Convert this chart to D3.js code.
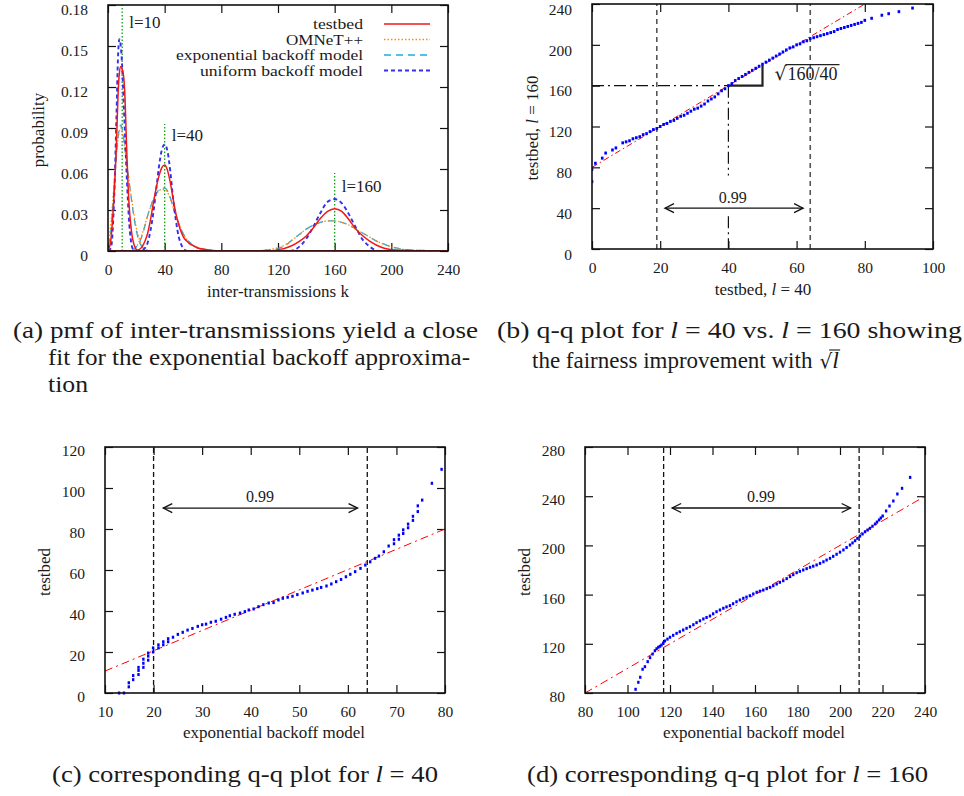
<!DOCTYPE html>
<html><head><meta charset="utf-8">
<script src="https://cdn.jsdelivr.net/npm/d3@7"></script>
<style>
body{margin:0;background:#fff;}
svg text{font-family:"Liberation Serif","DejaVu Serif",serif;fill:#1a1a1a;}
</style></head><body>
<svg id="fig" width="964" height="796"></svg>
<script>
// ---------- Panel (a): pmf of inter-transmissions [k, probability] ----------
const seriesNames = ["testbed","OMNeT++","exponential backoff model","uniform backoff model"];
const testbed10 = [[0,0],[2,0.008],[3,0.02],[4,0.035],[5,0.055],[6,0.08],[7,0.112],[8,0.13],[9,0.135],[10,0.133],[11,0.128],[12,0.112],[13,0.08],[14,0.052],[15,0.032],[16,0.02],[17,0.011],[18,0.006],[19,0.003],[20,0.001],[22,0],[240,0]];
const testbed40 = [[0,0],[18,0],[22,0.001],[24,0.003],[26,0.007],[28,0.013],[30,0.023],[32,0.035],[34,0.046],[36,0.055],[38,0.061],[40,0.063],[42,0.059],[44,0.05],[46,0.038],[48,0.027],[50,0.019],[52,0.013],[54,0.009],[56,0.007],[58,0.005],[60,0.004],[64,0.002],[70,0.001],[76,0],[240,0]];
const testbed160 = [[0,0],[116,0],[120,0.001],[125,0.002],[130,0.004],[135,0.007],[140,0.011],[145,0.017],[150,0.024],[155,0.029],[160,0.031],[165,0.029],[170,0.023],[175,0.016],[180,0.011],[185,0.007],[190,0.004],[195,0.002],[200,0.001],[210,0.0005],[220,0],[240,0]];
const omnet10 = [[0,0.006],[1,0.011],[2,0.02],[3,0.032],[4,0.045],[5,0.058],[6,0.071],[7,0.081],[8,0.088],[9,0.09],[10,0.087],[12,0.074],[14,0.058],[16,0.043],[18,0.029],[20,0.017],[22,0.009],[24,0.004],[26,0.002],[30,0],[240,0]];
const omnet40 = [[0,0],[16,0],[18,0.001],[20,0.003],[22,0.007],[24,0.012],[26,0.019],[28,0.026],[30,0.032],[32,0.037],[34,0.041],[36,0.044],[38,0.045],[40,0.045],[42,0.043],[44,0.038],[46,0.032],[48,0.026],[50,0.02],[52,0.015],[54,0.011],[56,0.008],[58,0.006],[60,0.004],[64,0.002],[70,0.001],[80,0],[240,0]];
const omnet160 = [[0,0],[100,0],[110,0.0006],[115,0.0012],[120,0.0025],[125,0.0045],[130,0.008],[135,0.012],[140,0.016],[145,0.019],[150,0.021],[155,0.022],[160,0.022],[165,0.021],[170,0.019],[175,0.016],[180,0.013],[185,0.01],[190,0.007],[195,0.005],[200,0.003],[205,0.002],[210,0.001],[220,0.0005],[240,0]];
const exp10 = [[0,0.004],[1,0.008],[2,0.015],[3,0.028],[4,0.042],[5,0.056],[6,0.07],[7,0.082],[8,0.09],[9,0.092],[10,0.089],[12,0.075],[14,0.058],[16,0.042],[18,0.027],[20,0.015],[22,0.007],[24,0.003],[26,0.0015],[30,0],[240,0]];
const exp40 = [[0,0],[16,0],[18,0.001],[20,0.003],[22,0.006],[24,0.011],[26,0.018],[28,0.026],[30,0.032],[32,0.038],[34,0.042],[36,0.045],[38,0.046],[40,0.046],[42,0.044],[44,0.039],[46,0.032],[48,0.026],[50,0.02],[52,0.015],[54,0.011],[56,0.008],[58,0.006],[60,0.004],[64,0.002],[70,0.001],[80,0],[240,0]];
const exp160 = [[0,0],[100,0],[110,0.0005],[115,0.001],[120,0.002],[125,0.004],[130,0.008],[135,0.012],[140,0.016],[145,0.019],[150,0.021],[155,0.022],[160,0.022],[165,0.021],[170,0.019],[175,0.016],[180,0.013],[185,0.01],[190,0.007],[195,0.005],[200,0.003],[205,0.002],[210,0.001],[220,0.0005],[240,0]];
const uniform10 = [[0,0],[2,0.002],[3,0.01],[4,0.03],[5,0.06],[6,0.1],[7,0.14],[8,0.155],[9,0.15],[10,0.135],[11,0.11],[12,0.085],[13,0.06],[14,0.038],[15,0.02],[16,0.009],[17,0.003],[18,0.001],[20,0],[240,0]];
const uniform40 = [[0,0],[22,0],[26,0.002],[28,0.006],[30,0.015],[32,0.028],[34,0.045],[36,0.062],[38,0.074],[40,0.078],[42,0.073],[44,0.058],[46,0.038],[48,0.022],[50,0.01],[52,0.004],[54,0.001],[56,0],[240,0]];
const uniform160 = [[0,0],[128,0],[132,0.001],[136,0.004],[140,0.009],[145,0.018],[150,0.028],[155,0.036],[160,0.038],[165,0.035],[170,0.027],[175,0.017],[180,0.008],[185,0.003],[188,0.001],[192,0],[240,0]];
const lValues = [10, 40, 160];
const lMarkerTops = [0.18, 0.093, 0.057];
const aXTicks = [0,40,80,120,160,200,240];
const aYTicks = [0,0.03,0.06,0.09,0.12,0.15,0.18];

// ---------- Panel (b): q-q testbed l=40 vs l=160 ----------
const bX = [0,0,0,1,3,4,6,7,9,10,11,12,13,14,15,16,17,18,19,20,21,22,23,24,25,26,27,28,29,30,31,32,33,34,35,36,37,38,39,40,41,42,43,44,45,46,47,48,49,50,51,52,53,54,55,56,57,58,59,60,61,62,63,64,65,66,67,68,69,70,71,72,73,74,75,76,77,78,79,80,82,85,87,90,94];
const bY = [0,66,78,84,89,94,97,99,104,105,106,108,109,110,112,113,115,117,118,120,122,123,125,126,128,130,131,133,135,137,138,140,142,145,147,149,152,155,157,160,162,165,167,169,171,173,175,177,179,181,183,185,187,189,191,193,195,197,198,200,201,203,204,206,207,208,209,210,211,212,213,215,216,217,218,219,220,221,222,224,226,229,230.5,232.5,236];
const bFit = [[0,80],[80,240]];
const bXTicks = [0,20,40,60,80,100];
const bYTicks = [0,40,80,120,160,200,240];
const bQuantiles = [19, 64];

// ---------- Panel (c): q-q l=40, exponential model vs testbed ----------
const cX = [12.9,13.9,14.9,14.9,15.8,15.8,16.9,16.9,16.9,17.9,17.9,17.9,18.9,18.9,18.9,19.9,19.9,21,21,22,22,23,23,24,25,26,27,28,29.1,30,30.8,31.8,32.8,33.9,34.9,35.7,36.7,37.8,38.8,39.6,40.6,41.6,42.6,43.7,44.7,45.7,46.6,47.6,48.6,49.6,50.7,51.7,52.7,53.7,54.5,55.6,56.6,57.6,58.6,59.6,60.5,61.5,62.6,63.6,64.6,65.6,66.4,67.4,68.4,69.5,69.5,70.5,70.5,71.4,71.4,72.4,72.4,73.4,73.4,74.4,74.4,75.3,77.3,79.3];
const cY = [0,0,3,5,6.5,8.5,9,11,12.5,12.5,14.5,16.5,16,18,19.5,20,22,22,23.5,23.5,25,25,26.5,27.2,28.6,29.6,30.7,31.5,32.5,33.3,33.6,34.5,35,36,36.9,37.7,38.4,39,39.7,40.5,41,42.1,43.1,43.9,44.1,45.4,46.2,46.7,47.2,48,48.8,49.6,50.2,50.9,51.5,52.2,53.2,54.3,55.4,56.7,57.9,59.2,60.8,62.4,64,65.7,66.8,68.9,71.7,72.8,74.8,75,77,77.8,79.6,80.6,82.4,84.2,86.2,88.5,91.3,94.1,102.3,109.1];
const cFit = [[10,10.7],[80,80]];
const cXTicks = [10,20,30,40,50,60,70,80];
const cYTicks = [0,20,40,60,80,100,120];
const cQuantiles = [20, 64];

// ---------- Panel (d): q-q l=160, exponential model vs testbed ----------
const dX = [103.8,105.1,106,107.1,108.2,109.5,110.6,111.8,112.9,113.7,114.5,115.3,116,116.8,117.6,118.8,120,121.5,123.1,124.6,126.2,127.8,129.4,131,132.5,134.1,135.7,137.2,138.8,140.3,141.9,143.5,145.1,146.6,148.2,149.7,151.3,152.9,154.5,156,157.6,159.2,160.8,162.3,163.9,165.5,167.1,168.6,170.2,171.7,173.3,174.9,176.5,178,179.6,181.1,182.7,184.3,185.9,187.4,189,190.6,192.2,193.7,195.3,196.8,198.4,200,201.6,203.1,204.7,205.9,207.1,208.2,209.4,210.6,211.8,213,214.1,215.3,216.5,217.4,218.4,219.2,220.1,221.7,223.3,225.1,227,229.2,233];
const dY = [83,88.7,92.8,99.3,101.4,105.5,108.7,111.7,114.4,116,117.2,118,119,120.6,122.3,123.8,125.3,126.9,128.5,129.8,131.2,132.6,133.9,135.5,137.2,138.7,140.2,141.4,142.6,144.4,146.1,147.5,148.9,150,151,152.6,154.2,155.6,157,158,159.1,160.5,161.9,162.8,163.7,164.8,165.9,167.2,168.6,170,171.3,173,174.6,176.2,177.8,178.9,180,181.1,182.2,183.1,184.1,185.4,186.7,188.1,189.5,191.1,192.8,194.5,196.3,198.3,200.3,202,203.8,205.7,207.6,209.3,211.1,212.5,213.9,215.6,217.4,219,220.7,222.3,223.9,228,232,236.1,241.8,246.4,255.3];
const dFit = [[80,80],[240,240]];
const dXTicks = [80,100,120,140,160,180,200,220,240];
const dYTicks = [80,120,160,200,240,280];
const dQuantiles = [117, 209];

// ---------- drawing ----------
const FONT = '"Liberation Serif","DejaVu Serif",serif';
const MATHFONT = '"DejaVu Serif",serif';
const svg = d3.select("#fig");
const defs = svg.append("defs");

function panel(o){
  const x = d3.scaleLinear().domain(o.xd).range([o.l,o.r]);
  const y = d3.scaleLinear().domain(o.yd).range([o.b,o.t]);
  const g = svg.append("g");
  defs.append("clipPath").attr("id","clip-"+o.name).append("rect")
    .attr("x",o.l).attr("y",o.t).attr("width",o.r-o.l).attr("height",o.b-o.t);
  const styleAxis = sel => {
    sel.attr("font-family",null);
    sel.select(".domain").remove();
    sel.selectAll(".tick line").attr("stroke","#111").attr("stroke-width",1.2);
    sel.selectAll(".tick text").style("font-size","15.5px").style("font-family",FONT).attr("fill","#1a1a1a");
  };
  g.append("g").attr("transform",`translate(0,${o.b})`)
    .call(d3.axisBottom(x).tickValues(o.xt).tickSize(-8).tickPadding(13).tickFormat(o.xf||d3.format("d"))).call(styleAxis);
  g.append("g").attr("transform",`translate(0,${o.t})`)
    .call(d3.axisTop(x).tickValues(o.xt).tickSize(-8).tickFormat("")).call(styleAxis);
  const ly = g.append("g").attr("transform",`translate(${o.l},0)`)
    .call(d3.axisLeft(y).tickValues(o.yt).tickSize(-8).tickPadding(20).tickFormat(o.yf||d3.format("d"))).call(styleAxis);
  ly.selectAll(".tick text").attr("dy",o.ydy||"0.55em");
  g.append("g").attr("transform",`translate(${o.r},0)`)
    .call(d3.axisRight(y).tickValues(o.yt).tickSize(-8).tickFormat("")).call(styleAxis);
  const plot = g.append("g").attr("clip-path",`url(#clip-${o.name})`);
  const frame = () => g.append("rect").attr("x",o.l).attr("y",o.t).attr("width",o.r-o.l).attr("height",o.b-o.t)
    .attr("fill","none").attr("stroke","#111").attr("stroke-width",1.6);
  return {x,y,g,plot,frame};
}

function titleText(g, x, y, parts, size, rotate){
  const t = g.append("text").attr("text-anchor","middle").style("font-size",size+"px").style("font-family",FONT)
    .attr("transform",`translate(${x},${y})`+(rotate?" rotate(-90)":""));
  parts.forEach(p => t.append("tspan").text(p[0]).style("font-style",p[1]?"italic":"normal"));
  return t;
}

function arrow(g, x1, x2, y){
  g.append("line").attr("x1",x1).attr("x2",x2).attr("y1",y).attr("y2",y).attr("stroke","#111").attr("stroke-width",1.3);
  g.append("path").attr("d",`M${x1+9},${y-4.5}L${x1},${y}L${x1+9},${y+4.5}`).attr("fill","none").attr("stroke","#111").attr("stroke-width",1.3);
  g.append("path").attr("d",`M${x2-9},${y-4.5}L${x2},${y}L${x2-9},${y+4.5}`).attr("fill","none").attr("stroke","#111").attr("stroke-width",1.3);
}

// ===== Panel (a) =====
{
  const P = panel({name:"a",l:108,r:448,t:5,b:251,xd:[0,240],yd:[0,0.18],xt:aXTicks,yt:aYTicks,
    yf:d=>d===0?"0":d3.format(".2f")(d), ydy:"0.62em"});
  const line = d3.line().x(d=>P.x(d[0])).y(d=>P.y(d[1])).curve(d3.curveMonotoneX);
  const styles = [
    {data:[exp10,exp40,exp160], color:"#25a8dc", w:1.3, dash:"7,5"},
    {data:[omnet10,omnet40,omnet160], color:"#ff8a10", w:1.3, dash:"1.5,2"},
    {data:[uniform10,uniform40,uniform160], color:"#3030f0", w:1.9, dash:"4,3"},
    {data:[testbed10,testbed40,testbed160], color:"#f01818", w:1.5, dash:null}
  ];
  lValues.forEach((l,i)=>{
    P.plot.append("line").attr("x1",P.x(l)).attr("x2",P.x(l)).attr("y1",P.y(0)).attr("y2",P.y(lMarkerTops[i]))
      .attr("stroke","#10a010").attr("stroke-width",1.3).attr("stroke-dasharray","1.5,2");
  });
  styles.forEach(s=>{
    s.data.forEach(d=>{
      P.plot.append("path").attr("d",line(d)).attr("fill","none").attr("stroke",s.color)
        .attr("stroke-width",s.w).attr("stroke-dasharray",s.dash);
    });
  });
  P.frame();
  const lblPos = [[15,0.163],[45,0.0805],[165,0.043]];
  lValues.forEach((l,i)=>{
    P.g.append("text").attr("x",P.x(lblPos[i][0])).attr("y",P.y(lblPos[i][1])).style("font-size","17px").style("font-family",FONT).text("l="+l);
  });
  const legendStyles = [styles[3],styles[1],styles[0],styles[2]];
  const legendWidths = [50, 77, 187, 163];
  seriesNames.forEach((n,i)=>{
    const yy = 24 + i*15.5;
    P.g.append("text").attr("x",363).attr("y",yy+5).attr("text-anchor","end").style("font-size","14px").style("font-family",FONT)
      .attr("textLength",legendWidths[i]).attr("lengthAdjust","spacingAndGlyphs").text(n);
    const s = legendStyles[i];
    P.g.append("line").attr("x1",384).attr("x2",430).attr("y1",yy).attr("y2",yy).attr("stroke",s.color)
      .attr("stroke-width",s.w).attr("stroke-dasharray",s.dash);
  });
  titleText(P.g, 278, 297, [["inter-transmissions k"]], 17);
  titleText(P.g, 44, 130, [["probability"]], 17, true);
}

// ===== Panel (b) =====
{
  const P = panel({name:"b",l:592,r:933,t:4,b:249,xd:[0,100],yd:[0,240],xt:bXTicks,yt:bYTicks, ydy:"0.66em"});
  const X=P.x, Y=P.y;
  bQuantiles.forEach(q=>{
    P.plot.append("line").attr("x1",X(q)).attr("x2",X(q)).attr("y1",Y(0)).attr("y2",Y(240))
      .attr("stroke","#555").attr("stroke-width",1.6).attr("stroke-dasharray","5,4");
  });
  P.plot.append("line").attr("x1",X(0)).attr("x2",X(40)).attr("y1",Y(160)).attr("y2",Y(160))
    .attr("stroke","#111").attr("stroke-width",1.2).attr("stroke-dasharray","12,4,2,4");
  [[160,72],[32,0]].forEach(s=>P.plot.append("line").attr("x1",X(40)).attr("x2",X(40)).attr("y1",Y(s[0])).attr("y2",Y(s[1]))
    .attr("stroke","#111").attr("stroke-width",1.2).attr("stroke-dasharray","12,4,2,4"));
  P.plot.append("line").attr("x1",X(bFit[0][0])).attr("y1",Y(bFit[0][1])).attr("x2",X(bFit[1][0])).attr("y2",Y(bFit[1][1]))
    .attr("stroke","#ff0000").attr("stroke-width",1).attr("stroke-dasharray","6,3,1.5,3");
  P.plot.append("path").attr("d",`M${X(40)},${Y(160)}L${X(50)},${Y(160)}L${X(50)},${Y(180)}`)
    .attr("fill","none").attr("stroke","#222").attr("stroke-width",2.2);
  P.plot.selectAll("rect.pt").data(bX.map((v,i)=>[v,bY[i]])).join("rect").attr("class","pt")
    .attr("x",d=>X(d[0])-1.3).attr("y",d=>Y(d[1])-1.5).attr("width",2.6).attr("height",3).attr("fill","#0000ff");
  P.frame();
  const sx = X(50)+12, sy = Y(160)-6;
  P.g.append("text").attr("x",sx).attr("y",sy).style("font-size","19px").style("font-family",MATHFONT).text("√");
  P.g.append("text").attr("x",sx+13).attr("y",sy).style("font-size","18px").style("font-family",FONT).text("160/40");
  P.g.append("line").attr("x1",sx+11).attr("x2",sx+65).attr("y1",sy-15).attr("y2",sy-15).attr("stroke","#222").attr("stroke-width",1.2);
  arrow(P.g, X(21.4), X(61.9), Y(40));
  P.g.append("text").attr("x",X(41.3)).attr("y",Y(45)).attr("text-anchor","middle").style("font-size","16px").style("font-family",FONT).text("0.99");
  titleText(P.g, 763, 295, [["testbed, "],["l",true],[" = 40"]], 17);
  titleText(P.g, 538, 128, [["testbed, "],["l",true],[" = 160"]], 17, true);
}

// ===== Panel (c) & (d) =====
function qqPanel(cfg){
  const P = panel(cfg);
  const X=P.x, Y=P.y;
  cfg.q.forEach(q=>{
    P.plot.append("line").attr("x1",X(q)).attr("x2",X(q)).attr("y1",Y(cfg.yd[0])).attr("y2",Y(cfg.yd[1]))
      .attr("stroke","#111").attr("stroke-width",1.3).attr("stroke-dasharray","5,3");
  });
  P.plot.append("line").attr("x1",X(cfg.fit[0][0])).attr("y1",Y(cfg.fit[0][1])).attr("x2",X(cfg.fit[1][0])).attr("y2",Y(cfg.fit[1][1]))
    .attr("stroke","#ff0000").attr("stroke-width",1).attr("stroke-dasharray","8,4,2,4");
  P.g.selectAll("rect.pt").data(cfg.px.map((v,i)=>[v,cfg.py[i]])).join("rect").attr("class","pt")
    .attr("x",d=>X(d[0])-1.2).attr("y",d=>Y(d[1])-1.5).attr("width",2.4).attr("height",3).attr("fill","#0000ff");
  P.frame();
  arrow(P.g, X(cfg.arrow[0]), X(cfg.arrow[1]), Y(cfg.arrow[2]));
  P.g.append("text").attr("x",X(cfg.lbl[0])).attr("y",Y(cfg.lbl[1])).attr("text-anchor","middle").style("font-size","16px").style("font-family",FONT).text("0.99");
  titleText(P.g, (cfg.l+cfg.r)/2 - 1, 738, [["exponential backoff model"]], 17);
  titleText(P.g, cfg.l-55, 572, [["testbed"]], 17, true);
}
qqPanel({name:"c",l:105,r:445,t:447,b:693,xd:[10,80],yd:[0,120],xt:cXTicks,yt:cYTicks,q:cQuantiles,fit:cFit,
  px:cX,py:cY,arrow:[22,62,90.2],lbl:[41.9,93]});
qqPanel({name:"d",l:585,r:925,t:447,b:693,xd:[80,240],yd:[80,280],xt:dXTicks,yt:dYTicks,q:dQuantiles,fit:dFit,
  px:dX,py:dY,arrow:[121,205,230.4],lbl:[162.8,235]});

// ===== captions =====
function caption(x, y, parts, len, anchor, size){
  const t = svg.append("text").attr("x",x).attr("y",y).attr("text-anchor",anchor||"start")
    .style("font-size",(size||24)+"px").style("font-family",FONT);
  if(len) t.attr("textLength",len).attr("lengthAdjust","spacingAndGlyphs");
  parts.forEach(p => t.append("tspan").text(p[0]).style("font-style",p[1]?"italic":"normal"));
  return t;
}
caption(13, 338, [["(a) pmf of inter-transmissions yield a close"]], 465);
caption(48, 365, [["fit for the exponential backoff approxima-"]], 422);
caption(48, 392, [["tion"]], 40);
caption(497, 338, [["(b) q-q plot for "],["l",true],[" = 40 vs. "],["l",true],[" = 160 showing"]], 465);
const l2 = caption(532, 368, [["the fairness improvement with"]], null, "start", 23);
{
  const endX = 532 + l2.node().getComputedTextLength();
  const sq = svg.append("text").attr("x",endX+7).attr("y",368).style("font-family",FONT);
  sq.append("tspan").style("font-size","20px").style("font-family",MATHFONT).text("√");
  sq.append("tspan").style("font-size","24px").style("font-style","italic").text("l");
  const bb = sq.node().getBBox();
  svg.append("line").attr("x1",bb.x+bb.width-10).attr("x2",bb.x+bb.width+1).attr("y1",350).attr("y2",350)
    .attr("stroke","#1a1a1a").attr("stroke-width",1.1);
}
caption(52, 782, [["(c) corresponding q-q plot for "],["l",true],[" = 40"]], 386);
caption(527, 782, [["(d) corresponding q-q plot for "],["l",true],[" = 160"]], 401);
</script>
</body></html>
